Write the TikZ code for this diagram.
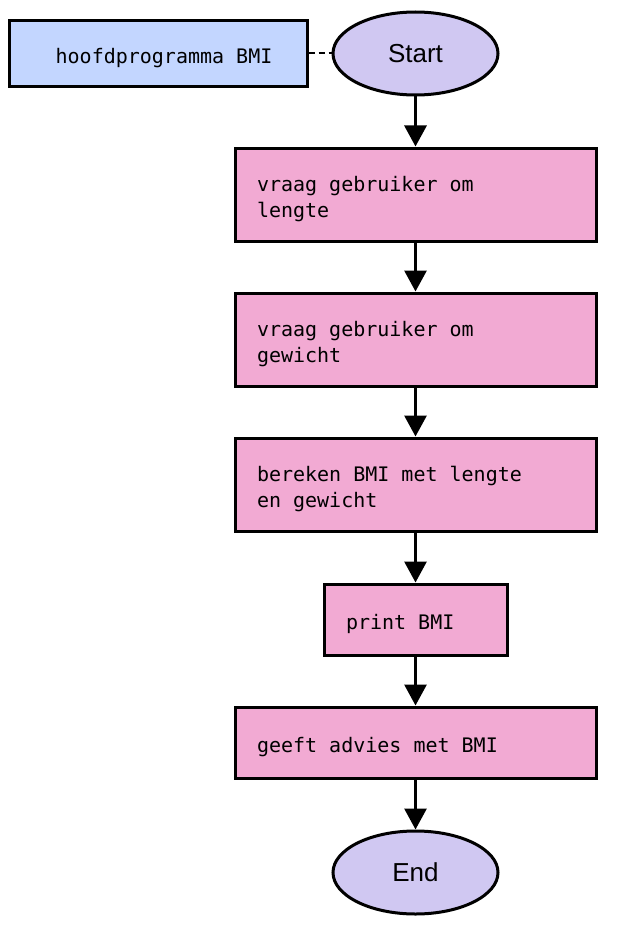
\documentclass[tikz,border=0pt]{standalone}
\usepackage{fontspec}
\setmainfont{Liberation Sans}
\setmonofont{DejaVu Sans Mono}
\usetikzlibrary{shapes.geometric,arrows.meta}

\definecolor{hoofdblauw}{RGB}{195,214,255}
\definecolor{eindpaars}{RGB}{208,200,242}
\definecolor{staproze}{RGB}{242,170,211}

\begin{document}
\begin{tikzpicture}[x=0.5pt,y=-0.5pt,
        stapbox/.style={draw, line width=1.5pt, fill=staproze, align=left,
            font=\ttfamily\fontsize{10}{13}\selectfont, inner xsep=11pt, inner ysep=0pt,
            text height=12.5pt, execute at begin node={\spaceskip=0pt\xspaceskip=0pt}},
        eindpunt/.style={ellipse, draw, line width=1.5pt, fill=eindpaars, inner sep=0pt,
            minimum width=82.5pt, minimum height=41.5pt, font=\fontsize{13}{15}\selectfont},
        pijl/.style={line width=1.5pt, -{Triangle[width=11pt,length=10.5pt]}}]
        \useasboundingbox (0,0) rectangle (639,931);

        \node[draw, line width=1.5pt, fill=hoofdblauw, minimum width=149pt, minimum height=33pt,
            text height=12pt, font=\ttfamily\fontsize{10}{13}\selectfont] (hoofd) at (158,53.5)
            {\hspace*{6pt}hoofdprogramma BMI};
        \node[eindpunt] (start) at (415.5,53.5) {Start};

        \node[stapbox, text width=158.5pt, minimum height=46.5pt] (lengte) at (415.5,194.5)
            {vraag gebruiker om\\lengte};
        \node[stapbox, text width=158.5pt, minimum height=46.5pt] (gewicht) at (415.5,339.5)
            {vraag gebruiker om\\gewicht};
        \node[stapbox, text width=158.5pt, minimum height=46.5pt] (bereken) at (415.5,484.5)
            {bereken BMI met lengte\\en gewicht};
        \node[stapbox, text width=69.5pt, minimum height=35.5pt] (print) at (415.5,619.5)
            {print BMI};
        \node[stapbox, text width=158.5pt, minimum height=35.5pt] (advies) at (415.5,742.5)
            {geeft advies met BMI};
        \node[eindpunt] (eind) at (415.5,872.5) {End};

        \draw[line width=1pt, dash pattern=on 3pt off 2pt] (hoofd) -- (start);
        \draw[pijl] (start) -- (lengte);
        \draw[pijl] (lengte) -- (gewicht);
        \draw[pijl] (gewicht) -- (bereken);
        \draw[pijl] (bereken) -- (print);
        \draw[pijl] (print) -- (advies);
        \draw[pijl] (advies) -- (eind);
    \end{tikzpicture}
\end{document}
